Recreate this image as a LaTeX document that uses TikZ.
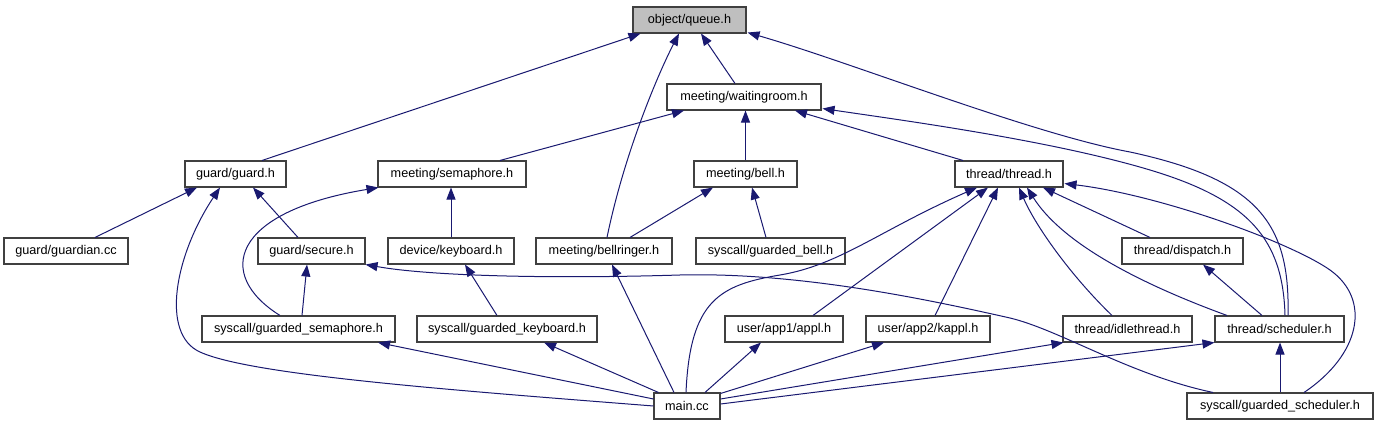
\documentclass[tikz,border=0pt]{standalone}
\usepackage{fontspec}
\setmainfont{Liberation Sans}
\usetikzlibrary{arrows.meta,calc}
\definecolor{edgeblue}{HTML}{191970}
\definecolor{boxline}{HTML}{404040}
\definecolor{boxgray}{HTML}{BFBFBF}
\tikzset{
  file/.style={draw=boxline, line width=0.8pt, fill=white, inner sep=0pt,
    minimum height=19.5pt, font=\fontsize{9.5}{11}\selectfont},
  edge/.style={draw=edgeblue, line width=0.75pt,
    -{Triangle[length=9pt,width=6.75pt]}, edgeblue}
}
\begin{document}
\begin{tikzpicture}[x=0.75pt,y=-0.75pt]
      \useasboundingbox (0,0) rectangle (1377,427);
      \node[file, fill=boxgray, minimum width=84.75pt] (queue) at (689.5,20) {object/queue.h};
      \node[file, minimum width=115.5pt] (waiting) at (744,97) {meeting/waitingroom.h};
      \node[file, minimum width=75.75pt] (guard) at (235.5,174) {guard/guard.h};
      \node[file, minimum width=111pt] (sema) at (452,174) {meeting/semaphore.h};
      \node[file, minimum width=77.25pt] (bell) at (745.5,174) {meeting/bell.h};
      \node[file, minimum width=81pt] (thread) at (1009,174) {thread/thread.h};
      \node[file, minimum width=93pt] (guardian) at (66,251) {guard/guardian.cc};
      \node[file, minimum width=80.25pt] (secure) at (311.5,251) {guard/secure.h};
      \node[file, minimum width=94.5pt] (keyboard) at (451,251) {device/keyboard.h};
      \node[file, minimum width=102pt] (bellringer) at (604,251) {meeting/bellringer.h};
      \node[file, minimum width=111.75pt] (gbell) at (770.5,251) {syscall/guarded\_bell.h};
      \node[file, minimum width=90.75pt] (dispatch) at (1182.5,251) {thread/dispatch.h};
      \node[file, minimum width=144.75pt] (gsem) at (298.5,329) {syscall/guarded\_semaphore.h};
      \node[file, minimum width=135pt] (gkbd) at (507,329) {syscall/guarded\_keyboard.h};
      \node[file, minimum width=88.5pt] (appl) at (784,329) {user/app1/appl.h};
      \node[file, minimum width=93pt] (kappl) at (928,329) {user/app2/kappl.h};
      \node[file, minimum width=96.75pt] (idle) at (1127.5,329) {thread/idlethread.h};
      \node[file, minimum width=96.75pt] (sched) at (1279.5,329) {thread/scheduler.h};
      \node[file, minimum width=49.5pt] (main) at (687,406) {main.cc};
      \node[file, minimum width=139.5pt] (gsched) at (1280,406) {syscall/guarded\_scheduler.h};
      \begin{scope}[edge]
        \draw ($(guard.north)+(26.5,0)$) -- ($(queue.south west)+(8,0)$);
        \draw ($(bellringer.north)+(3,0)$) .. controls (625,150) and (660,70) .. ($(queue.south)+(-10.5,0)$);
        \draw ($(waiting.north)+(-9,0)$) -- ($(queue.south)+(11.5,0)$);
        \draw ($(sched.north)+(8.5,0)$) .. controls (1290,225) and (1260,180) .. (1130,152)
          .. controls (1032,134) and (850,62) .. ($(queue.south east)+(1,-1)$);
        \draw ($(sema.north)+(48,0)$) -- ($(waiting.south)+(-60,0)$);
        \draw (bell.north) -- (bell.north |- waiting.south);
        \draw ($(thread.north)+(-46,0)$) -- ($(waiting.south)+(51,0)$);
        \draw ($(sched.north)+(5.5,0)$) .. controls (1283,240) and (1250,200) .. (1150,170)
          .. controls (1050,140) and (900,120) .. ($(waiting.south east)+(1,-2)$);
        \draw ($(guardian.north)+(29,0)$) -- ($(guard.south)+(-38.5,0)$);
        \draw ($(secure.north)+(-13.5,0)$) -- ($(guard.south)+(17.5,0)$);
        \draw (main.west) .. controls (450,390) and (250,375) .. (200,352)
          .. controls (160,334) and (175,255) .. ($(guard.south)+(-15.5,0)$);
        \draw ($(gsem.north)+(-18.5,0)$) .. controls (215,275) and (230,212) .. ($(sema.south west)+(1,0)$);
        \draw (keyboard.north) -- (keyboard.north |- sema.south);
        \draw ($(bellringer.north)+(26,0)$) -- ($(bell.south)+(-32.5,0)$);
        \draw ($(gbell.north)+(-4.5,0)$) -- ($(bell.south)+(6.5,0)$);
        \draw ($(main.north)+(-1,0)$) .. controls (690,300) and (720,285) .. (780,275)
          .. controls (840,265) and (880,230) .. ($(thread.south)+(-32,0)$);
        \draw ($(appl.north)+(29,0)$) -- ($(thread.south)+(-21,0)$);
        \draw ($(kappl.north)+(7,0)$) -- ($(thread.south)+(-11,0)$);
        \draw ($(idle.north)+(-15.5,0)$) .. controls (1070,275) and (1035,225) .. ($(thread.south)+(10,0)$);
        \draw ($(sched.north)+(-52.5,0)$) .. controls (1130,280) and (1060,240) .. ($(thread.south)+(18,0)$);
        \draw ($(dispatch.north)+(-32.5,0)$) -- ($(thread.south)+(34,0)$);
        \draw ($(gsched.north)+(24,0)$) .. controls (1360,355) and (1372,300) .. (1330,270)
          .. controls (1290,242) and (1160,195) .. ($(thread.south east)+(1,-4)$);
        \draw ($(gsem.north)+(3.5,0)$) -- ($(secure.south)+(-4.5,0)$);
        \draw ($(gsched.north)+(-67,0)$) .. controls (1130,375) and (1060,330) .. (1010,318)
          .. controls (930,300) and (800,272) .. (680,275)
          .. controls (550,279) and (430,276) .. (secure.south east);
        \draw ($(gkbd.north)+(-10,0)$) -- ($(keyboard.south)+(14,0)$);
        \draw ($(main.north)+(-13,0)$) -- ($(bellringer.south)+(8,0)$);
        \draw ($(sched.north)+(-17.5,0)$) -- ($(dispatch.south)+(20.5,0)$);
        \draw ($(main.west)+(0,-7)$) -- ($(gsem.south)+(79.5,0)$);
        \draw ($(main.north west)+(5,0)$) -- ($(gkbd.south)+(37,0)$);
        \draw ($(main.north)+(18,0)$) -- ($(appl.south)+(-23,0)$);
        \draw ($(main.north east)+(0,1)$) -- ($(kappl.south)+(-44,0)$);
        \draw ($(main.east)+(0,-7)$) -- ($(idle.south west)+(1,0)$);
        \draw ($(main.east)+(0,-2)$) -- (sched.south west);
        \draw (gsched.north) -- (gsched.north |- sched.south);
      \end{scope}
    \end{tikzpicture}
\end{document}
